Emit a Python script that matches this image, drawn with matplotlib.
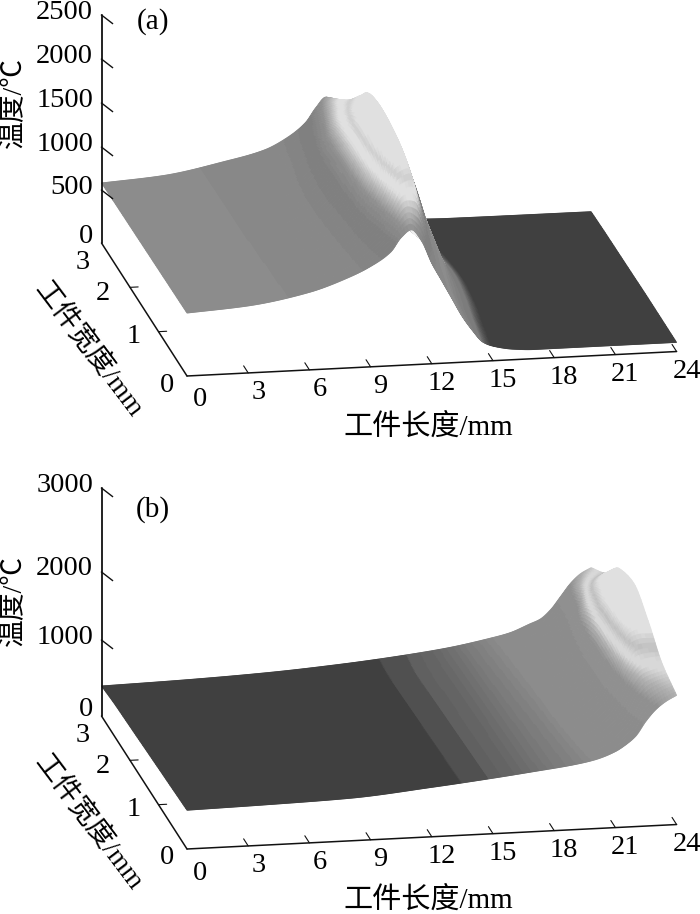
import numpy as np
import matplotlib
matplotlib.use('Agg')
import matplotlib.pyplot as plt
from matplotlib.collections import PolyCollection

plt.rcParams['font.family'] = ['Liberation Serif', 'Noto Sans CJK SC', 'DejaVu Sans']

# 读图得到的温度表: 行是工件长度, 列是工件宽度
width_mm = [0, 0.5, 1, 1.5, 2, 2.5, 3]

len_a = [0, 3, 6, 8, 9, 10, 10.5, 11, 11.5, 12, 12.5, 13, 13.5, 14, 14.5, 15, 16, 17, 24]
temp_a = [
    [690, 685, 680, 675, 670, 665, 658],
    [735, 730, 725, 720, 715, 710, 705],
    [850, 850, 850, 850, 845, 835, 825],
    [998, 1010, 1020, 1025, 1000, 960, 932],
    [1100, 1140, 1170, 1200, 1170, 1100, 1040],
    [1250, 1390, 1530, 1560, 1530, 1380, 1210],
    [1400, 1600, 1800, 1850, 1750, 1560, 1365],
    [1480, 1850, 2200, 2230, 1900, 1690, 1477],
    [1350, 1900, 2080, 2120, 1980, 1645, 1350],
    [1100, 1585, 1800, 1900, 1800, 1350, 1100],
    [900, 1150, 1450, 1650, 1500, 1050, 850],
    [700, 850, 1150, 1350, 1150, 800, 600],
    [500, 600, 800, 1000, 800, 550, 400],
    [340, 400, 550, 700, 550, 350, 250],
    [210, 260, 350, 420, 340, 210, 170],
    [160, 180, 220, 250, 210, 150, 120],
    [115, 115, 120, 125, 115, 100, 85],
    [100, 100, 100, 100, 95, 90, 80],
    [100, 100, 100, 95, 90, 85, 75],
]

len_b = [0, 4, 8, 12, 15, 17, 19, 20, 21, 21.5, 22, 22.5, 23, 23.5, 24]
temp_b = [
    [510, 493, 477, 460, 443, 427, 395],
    [530, 513, 497, 480, 463, 447, 420],
    [560, 543, 527, 510, 493, 477, 460],
    [650, 630, 610, 590, 570, 550, 530],
    [730, 710, 690, 670, 650, 630, 605],
    [790, 770, 750, 730, 710, 690, 670],
    [855, 840, 825, 810, 795, 780, 765],
    [905, 905, 900, 880, 860, 840, 825],
    [1000, 1030, 1040, 1020, 985, 950, 930],
    [1080, 1140, 1170, 1150, 1090, 1010, 985],
    [1190, 1330, 1420, 1420, 1320, 1150, 1100],
    [1380, 1600, 1800, 1850, 1720, 1400, 1270],
    [1530, 1760, 2050, 2120, 2000, 1700, 1440],
    [1630, 1800, 2100, 2250, 2130, 1800, 1560],
    [1700, 1820, 2100, 2300, 2200, 1850, 1630],
]

# 灰度与温度的对应
shade_t_a = [80, 170, 230, 600, 1000, 1280, 1480, 1600, 1700, 1780, 1840, 1920, 2400]
shade_g_a = [0x42, 0x42, 0x7a, 0x8c, 0x88, 0x7e, 0x90, 0xb8, 0xe0, 0xe0, 0xce, 0xe2, 0xe2]
shade_t_b = [300, 685, 686, 721, 722, 760, 820, 900, 1100, 1550, 1700, 1800, 1860, 1950, 2080, 2400]
shade_g_b = [0x42, 0x42, 0x4e, 0x4e, 0x5e, 0x66, 0x7a, 0x8c, 0x8c, 0x90, 0xb0, 0xd8, 0xd8, 0xc0, 0xe2, 0xe2]
# 陡坡背面看到的灰度, 随宽度变亮
under_y = [0, 0.6, 1.0]
under_g = [0x90, 0xc0, 0xf0]

x_ticks = [0, 3, 6, 9, 12, 15, 18, 21, 24]
y_ticks = [0, 1, 2, 3]
z_ticks_a = [0, 500, 1000, 1500, 2000, 2500]
z_ticks_b = [0, 1000, 2000, 3000]
# 原图纵轴刻度间距不均匀, 这里是刻度实际所在的位置
z_at_a = [0, 581, 1052, 1535, 2017, 2500]
z_at_b = [0, 1000, 1895, 3000]

y_label_nudge = [(-20, 9), (-25, 5), (-27, 6), (-19, 19)]
TICK_FS = 20.5


def smooth_curve(x, v, xf):
    # 保形三次插值, 只用来把读数画成光滑曲面
    x = np.asarray(x, dtype=float)
    v = np.asarray(v, dtype=float)
    h = np.diff(x)
    s = np.diff(v) / h
    d = np.zeros(len(x))
    d[0], d[-1] = s[0], s[-1]
    for k in range(1, len(x) - 1):
        if s[k - 1] * s[k] > 0:
            w1 = 2 * h[k] + h[k - 1]
            w2 = h[k] + 2 * h[k - 1]
            d[k] = (w1 + w2) / (w1 / s[k - 1] + w2 / s[k])
    idx = np.clip(np.searchsorted(x, xf, side='right') - 1, 0, len(h) - 1)
    u = (xf - x[idx]) / h[idx]
    return ((2 * u**3 - 3 * u**2 + 1) * v[idx] + (u**3 - 2 * u**2 + u) * h[idx] * d[idx]
            + (-2 * u**3 + 3 * u**2) * v[idx + 1] + (u**3 - u**2) * h[idx] * d[idx + 1])


class Panel:
    def __init__(self, ax, origin, z_scale):
        self.ax = ax
        self.ox, self.oy = origin
        self.z_scale = z_scale

    def xy(self, x, y, z=0.0):
        # 斜投影, 结果是图上的像素坐标
        px = self.ox + 20.4 * np.asarray(x) - 28.5 * np.asarray(y)
        py = self.oy - 1.02 * np.asarray(x) - 44.33 * np.asarray(y) - self.z_scale * np.asarray(z)
        return px, py

    def line(self, p0, p1, lw=1.0):
        a = self.xy(*p0)
        b = self.xy(*p1)
        self.ax.plot([a[0], b[0]], [a[1], b[1]], color='#111111', lw=lw, solid_capstyle='round')

    def surface(self, lengths, temps, shade_t, shade_g, tilt):
        xf = np.arange(0, 24.001, 0.05)
        yf = np.linspace(0, 3, 61)
        temps = np.array(temps, dtype=float)
        by_y = np.array([smooth_curve(lengths, temps[:, j], xf) for j in range(len(width_mm))])
        grid = np.array([smooth_curve(width_mm, by_y[:, i], yf) for i in range(len(xf))])

        polys, colors = [], []
        for i in range(len(xf) - 2, -1, -1):
            for j in range(len(yf) - 2, -1, -1):
                xs = [xf[i], xf[i + 1], xf[i + 1], xf[i]]
                ys = [yf[j], yf[j], yf[j + 1], yf[j + 1]]
                zs = [grid[i, j], grid[i + 1, j], grid[i + 1, j + 1], grid[i, j + 1]]
                px, py = self.xy(xs, ys, zs)
                polys.append(np.column_stack([px, py]))
                area = (px[1] - px[0]) * (py[3] - py[0]) - (py[1] - py[0]) * (px[3] - px[0])
                if area > 0:
                    g = np.interp(yf[j], under_y, under_g)
                else:
                    g = np.interp(np.mean(zs) + tilt * yf[j] / 3, shade_t, shade_g)
                g = round(g / 4) * 4 / 255
                colors.append((g, g, g))
        self.ax.add_collection(PolyCollection(polys, facecolors=colors, edgecolors=colors, linewidths=0.6))

    def axes(self, z_top, z_ticks, z_at):
        self.line((0, 3, 0), (0, 3, z_top), lw=1.3)
        self.line((0, 3, 0), (0, 0, 0), lw=1.1)
        self.line((0, 0, 0), (24, 0, 0), lw=1.1)
        for x in x_ticks[1:]:
            self.line((x, 0, 0), (x, 0.16, 0), lw=0.8)
            px, py = self.xy(x, 0)
            self.ax.text(px + 10, py + 20, str(x), ha='center', va='center', fontsize=TICK_FS)
        px, py = self.xy(0, 0)
        self.ax.text(px + 13, py + 24, '0', ha='center', va='center', fontsize=TICK_FS)
        for y, (dx, dy) in zip(y_ticks, y_label_nudge):
            if 0 < y < 3:
                self.line((0, y, 0), (0.4, y, 0), lw=0.8)
            px, py = self.xy(0, y)
            self.ax.text(px + dx, py + dy, str(y), ha='center', va='center', fontsize=TICK_FS)
        for label, z in zip(z_ticks, z_at):
            a = self.xy(0, 3, z)
            if z > 0:
                self.ax.plot([a[0], a[0] + 11], [a[1], a[1] + 8.5], color='#111111', lw=1.0)
            self.ax.text(93, a[1] - (3 if z > 0 else 7), str(label), ha='right', va='center', fontsize=TICK_FS)


fig = plt.figure(figsize=(7, 9.14), dpi=100)
ax = fig.add_axes([0, 0, 1, 1])
ax.set_xlim(0, 700)
ax.set_ylim(914, 0)
ax.axis('off')

top = Panel(ax, (187, 376), 0.0912)
top.surface(len_a, temp_a, shade_t_a, shade_g_a, 30)
top.axes(2500, z_ticks_a, z_at_a)

bottom = Panel(ax, (187, 849), 0.076)
bottom.surface(len_b, temp_b, shade_t_b, shade_g_b, 120)
bottom.axes(3000, z_ticks_b, z_at_b)

for y0, tag, ty, zy in ((0, '(a)', 22, 102), (473, '(b)', 510, 601)):
    ax.text(153, ty, tag, ha='center', va='center', fontsize=21)
    ax.text(14, zy, '温度/℃', rotation=90, ha='center', va='center', fontsize=20)
    ax.text(428, y0 + 427, '工件长度/mm', ha='center', va='center', fontsize=21)
    ax.text(88, y0 + 350, '工件宽度/mm', rotation=-53, rotation_mode='anchor', ha='center', va='center', fontsize=20)

fig.savefig('out.png', dpi=100)
